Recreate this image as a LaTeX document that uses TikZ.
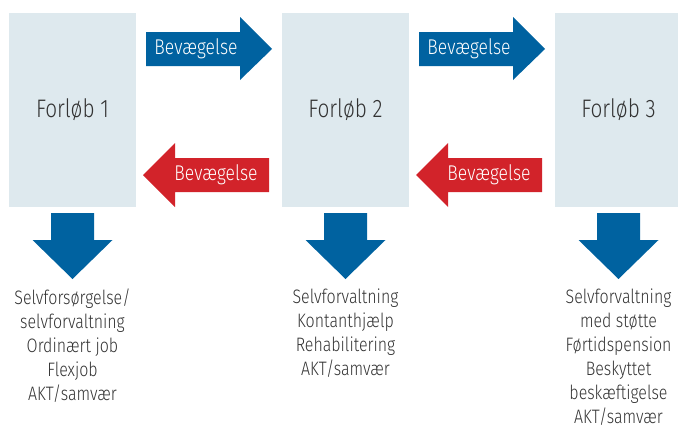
\documentclass[tikz,border=0pt]{standalone}
\usepackage{fontspec}
\setmainfont{Fira Sans Light}[FakeStretch=0.82]
\usepackage{xcolor}
\usetikzlibrary{positioning, calc}
\definecolor{boksfarve}{RGB}{222,233,238}
\definecolor{blaa}{RGB}{0,98,160}
\definecolor{roed}{RGB}{210,35,42}
\definecolor{tekst}{RGB}{51,51,51}

\begin{document}
\begin{tikzpicture}[x=0.75pt,y=-0.75pt,
  forloeb/.style={fill=boksfarve, minimum width=95.25pt, minimum height=145.5pt,
    inner sep=0pt, text=tekst, font=\fontsize{19}{21}\selectfont},
  pil/.style={text=white, inner sep=0pt, font=\fontsize{16}{18}\selectfont},
  udfald/.style={anchor=north, align=center, inner sep=0pt, text=tekst,
    font=\fontsize{14.6}{18}\selectfont}]
\useasboundingbox (0,0) rectangle (678,429);
% Forloeb
\foreach \i/\x in {1/72.5, 2/345.5, 3/618.5} {
    \node[forloeb] (f\i) at (\x,110) {Forløb \i};
    \fill[blaa] (\x-21.5,213) -- (\x+21.5,213) -- (\x+21.5,240) -- (\x+40,240)
        -- (\x,279) -- (\x-40,240) -- (\x-21.5,240) -- cycle;
}
% Bevaegelse frem og tilbage
\foreach \i/\d in {1/0, 2/273} {
    \fill[blaa] (146+\d,32) -- (240+\d,32) -- (240+\d,17) -- (272+\d,49)
        -- (240+\d,80) -- (240+\d,66) -- (146+\d,66) -- cycle;
    \node[pil] (frem\i) at (196+\d,49) {Bevægelse};
    \fill[roed] (143+\d,175) -- (175+\d,143) -- (175+\d,158) -- (269+\d,158)
        -- (269+\d,192) -- (175+\d,192) -- (175+\d,207) -- cycle;
    \node[pil] (tilbage\i) at (216+\d,175) {Bevægelse};
}
% Udfald
\node[udfald] (u1) at (72.5,289) {Selvforsørgelse/\\selvforvaltning\\Ordinært job\\Flexjob\\AKT/samvær};
\node[udfald] (u2) at (345.5,289) {Selvforvaltning\\Kontanthjælp\\Rehabilitering\\AKT/samvær};
\node[udfald] (u3) at (618.5,289) {Selvforvaltning\\med støtte\\Førtidspension\\Beskyttet\\beskæftigelse\\AKT/samvær};
\end{tikzpicture}
\end{document}
